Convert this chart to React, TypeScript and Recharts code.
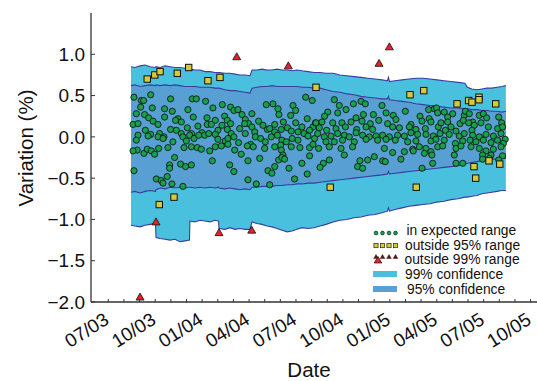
import React from 'react';
import { ComposedChart, Area, Scatter, XAxis, YAxis } from 'recharts';

const FONT = '"Liberation Sans", Arial, Helvetica, sans-serif';

// x values: months since July 2003 (0 = 07/03)
const bandMonths = [1.45,1.71,2.03,2.35,2.67,3.02,3.05,3.31,3.63,3.94,4.26,4.58,4.90,5.19,5.22,5.54,5.86,6.18,6.50,6.82,7.05,7.08,7.46,7.78,8.10,8.42,8.74,9.06,9.19,9.51,9.83,10.15,10.47,10.79,11.11,11.43,11.75,12.07,12.39,12.77,13.15,13.54,13.92,14.37,14.81,15.26,15.71,16.16,16.60,17.05,17.50,17.85,17.91,17.98,18.33,18.78,19.23,19.67,20.12,20.57,21.02,21.46,21.91,22.36,22.80,22.96,23.25,23.57,23.89,24.21,24.53,24.85,25.17,25.42];
const upper99 = [0.85,0.84,0.86,0.87,0.85,0.84,0.85,0.84,0.86,0.85,0.84,0.84,0.83,0.83,0.82,0.81,0.81,0.79,0.79,0.78,0.78,0.78,0.77,0.77,0.76,0.75,0.75,0.74,0.81,0.81,0.82,0.81,0.81,0.82,0.81,0.81,0.80,0.81,0.80,0.79,0.78,0.78,0.77,0.77,0.75,0.74,0.73,0.72,0.71,0.70,0.69,0.68,0.72,0.67,0.68,0.69,0.70,0.71,0.71,0.70,0.69,0.68,0.67,0.66,0.65,0.60,0.58,0.57,0.58,0.59,0.59,0.60,0.61,0.62];
const upper95 = [0.62,0.63,0.61,0.62,0.63,0.62,0.63,0.62,0.63,0.62,0.63,0.62,0.61,0.61,0.61,0.61,0.60,0.60,0.60,0.59,0.59,0.59,0.57,0.56,0.56,0.55,0.54,0.53,0.59,0.60,0.61,0.61,0.62,0.61,0.61,0.61,0.61,0.61,0.60,0.60,0.59,0.59,0.57,0.55,0.54,0.52,0.51,0.49,0.48,0.47,0.46,0.46,0.49,0.45,0.44,0.43,0.42,0.40,0.39,0.38,0.37,0.36,0.35,0.35,0.34,0.34,0.33,0.33,0.32,0.32,0.31,0.31,0.30,0.31];
const lower95 = [-0.67,-0.66,-0.68,-0.66,-0.65,-0.66,-0.64,-0.62,-0.63,-0.61,-0.62,-0.61,-0.62,-0.61,-0.61,-0.62,-0.61,-0.62,-0.61,-0.62,-0.61,-0.62,-0.63,-0.62,-0.63,-0.64,-0.63,-0.64,-0.61,-0.61,-0.60,-0.60,-0.60,-0.59,-0.59,-0.58,-0.58,-0.57,-0.57,-0.56,-0.56,-0.55,-0.54,-0.53,-0.52,-0.51,-0.50,-0.49,-0.48,-0.47,-0.46,-0.45,-0.42,-0.45,-0.44,-0.43,-0.42,-0.41,-0.40,-0.39,-0.38,-0.37,-0.36,-0.35,-0.33,-0.32,-0.31,-0.30,-0.29,-0.28,-0.27,-0.27,-0.26,-0.26];
const lower99 = [-1.07,-1.08,-1.09,-1.07,-1.06,-1.05,-1.22,-1.23,-1.24,-1.25,-1.24,-1.27,-1.26,-1.25,-1.02,-1.03,-1.01,-1.02,-1.03,-1.01,-1.02,-1.11,-1.12,-1.10,-1.12,-1.11,-1.12,-1.12,-1.03,-1.05,-1.06,-1.08,-1.09,-1.11,-1.13,-1.15,-1.14,-1.12,-1.10,-1.11,-1.10,-1.08,-1.06,-1.03,-1.01,-1.00,-0.98,-0.97,-0.95,-0.94,-0.92,-0.90,-0.86,-0.90,-0.88,-0.86,-0.84,-0.83,-0.82,-0.81,-0.79,-0.78,-0.76,-0.75,-0.73,-0.73,-0.72,-0.71,-0.69,-0.68,-0.67,-0.66,-0.65,-0.65];

// [month, variation %]
const expectedPoints: [number, number][] = [
  [2.71,0.51],[1.64,0.48],[2.11,0.44],[2.26,0.44],[3.98,0.46],[5.37,0.46],[5.63,0.46],[6.22,0.43],[10.10,0.39],[10.53,0.40],[12.62,0.48],[13.04,0.44],[2.07,0.36],[2.81,0.35],[3.60,0.34],[4.09,0.31],[5.09,0.33],[6.69,0.35],[7.29,0.39],[7.82,0.36],[8.03,0.32],[8.29,0.33],[9.18,0.28],[10.85,0.34],[10.91,0.27],[11.81,0.38],[11.98,0.32],[11.66,0.26],
  [1.79,0.28],[2.32,0.27],[2.58,0.23],[2.86,0.19],[3.18,0.15],[3.60,0.24],[4.45,0.22],[4.67,0.18],[4.30,0.20],[5.43,0.24],[6.31,0.23],[6.84,0.20],[7.44,0.25],[7.61,0.20],[7.82,0.16],[8.55,0.27],[8.76,0.21],[8.97,0.16],[9.61,0.19],[10.17,0.09],[10.64,0.15],[11.19,0.18],[11.98,0.17],[12.72,0.22],[13.09,0.12],[13.24,0.17],
  [1.58,0.15],[1.90,0.16],[2.37,0.08],[2.71,0.03],[3.28,0.04],[3.56,0.00],[3.98,0.09],[4.35,0.08],[4.67,0.04],[5.05,0.11],[5.31,0.04],[5.73,0.13],[5.99,0.05],[6.33,0.15],[6.59,0.15],[7.01,0.08],[7.27,0.14],[7.61,0.09],[7.86,0.04],[8.40,0.10],[8.72,0.16],[9.18,0.12],[9.36,0.06],[9.89,0.14],[10.32,0.10],[10.64,0.06],[11.06,0.09],[11.45,0.11],[11.70,0.07],[12.13,0.06],[12.38,0.12],[12.87,0.08],
  [1.90,0.02],[2.54,0.01],[3.18,0.00],[3.50,-0.02],[4.13,-0.06],[4.77,0.00],[4.99,-0.05],[5.20,0.02],[5.48,-0.02],[5.78,0.02],[6.16,0.02],[6.42,0.04],[6.84,0.03],[7.01,-0.03],[7.48,-0.05],[7.65,-0.02],[8.03,0.00],[8.33,-0.07],[8.76,0.04],[9.10,-0.09],[9.40,0.00],[9.74,-0.02],[10.04,-0.06],[10.42,0.00],[10.81,0.02],[11.10,-0.04],[11.38,-0.06],[11.76,-0.02],[12.13,-0.04],[12.51,0.04],[12.77,0.01],[13.19,-0.02],
  [1.79,-0.04],[1.85,-0.16],[1.58,-0.17],[2.28,-0.20],[2.49,-0.15],[2.75,-0.17],[2.96,-0.21],[3.22,-0.14],[3.81,-0.13],[4.84,-0.13],[5.31,-0.12],[5.69,-0.13],[5.95,-0.15],[6.48,-0.17],[6.84,-0.12],[7.23,-0.11],[7.65,-0.09],[8.08,-0.16],[8.50,-0.21],[8.89,-0.11],[9.27,-0.12],[9.68,-0.26],[10.00,-0.14],[10.64,-0.12],[11.02,-0.10],[11.06,-0.16],[11.17,-0.22],[11.70,-0.12],[12.25,-0.13],[12.87,-0.13],[13.09,-0.09],
  [4.24,-0.25],[6.65,-0.29],[8.93,-0.29],[10.89,-0.28],[11.10,-0.25],[11.27,-0.27],[12.38,-0.32],[12.87,-0.23],
  [1.64,-0.41],[3.92,-0.34],[3.92,-0.38],[4.62,-0.33],[4.94,-0.36],[5.31,-0.34],[7.76,-0.34],[8.03,-0.42],[10.21,-0.41],[10.46,-0.44],[10.64,-0.36],[11.55,-0.38],[12.72,-0.45],
  [3.07,-0.51],[3.39,-0.53],[3.50,-0.56],[3.77,-0.48],[4.07,-0.57],[4.77,-0.60],[8.93,-0.52],[9.46,-0.57],[10.32,-0.58],[11.91,-0.51],
  [14.45,0.45],[14.77,0.38],[15.67,0.40],[16.16,0.43],[16.43,0.40],[17.50,0.38],[18.99,0.31],[15.20,0.33],[14.03,0.30],[13.83,0.25],[14.67,0.29],[15.84,0.23],[16.31,0.27],[16.95,0.27],[17.76,0.29],[18.22,0.26],[18.39,0.21],[19.93,0.25],[20.48,0.33],[20.85,0.34],[20.99,0.35],[21.06,0.29],[20.52,0.22],[21.48,0.30],[21.70,0.24],[22.02,0.28],[22.76,0.26],[22.83,0.31],[23.08,0.28],[23.30,0.18],[23.72,0.26],[23.98,0.28],[24.19,0.23],[24.96,0.24],[25.15,0.17],
  [13.28,0.17],[13.66,0.18],[14.35,0.17],[14.94,0.17],[15.52,0.18],[16.22,0.19],[16.75,0.16],[17.29,0.20],[17.86,0.16],[19.35,0.15],[20.06,0.19],[20.27,0.10],[20.63,0.18],[21.10,0.12],[21.27,0.17],[21.70,0.18],[21.91,0.12],[22.49,0.16],[22.70,0.20],[23.04,0.17],[23.40,0.14],[23.83,0.17],[24.30,0.12],[24.89,0.10],[25.21,0.12],
  [13.49,0.11],[13.96,0.08],[14.56,0.10],[15.16,0.12],[15.88,0.09],[16.48,0.12],[16.90,0.09],[18.18,0.12],[18.61,0.11],[19.25,0.12],[19.67,0.09],[21.55,0.08],[22.23,0.07],[23.25,0.08],
  [13.39,0.04],[13.81,0.00],[14.24,0.01],[14.67,0.04],[15.09,0.02],[15.41,0.00],[15.84,0.05],[16.26,0.02],[16.69,0.00],[17.12,0.01],[17.54,0.02],[17.97,0.00],[18.50,0.02],[18.93,0.01],[19.35,0.05],[19.78,0.03],[20.31,0.03],[20.78,0.01],[21.21,0.04],[21.80,0.03],[22.44,0.01],[22.76,0.04],[23.30,0.02],[23.72,0.00],[24.15,0.03],[24.62,0.01],[25.11,0.04],[25.38,-0.03],
  [13.92,-0.06],[14.45,-0.06],[14.98,-0.04],[15.73,-0.06],[16.48,-0.03],[17.22,-0.04],[17.76,-0.03],[18.35,-0.04],[19.14,-0.06],[19.67,-0.05],[20.63,-0.05],[20.95,-0.03],[21.48,-0.04],[22.19,-0.08],[22.66,-0.05],[23.13,-0.04],[23.51,-0.06],[23.98,-0.04],[24.47,-0.07],[24.89,-0.04],[25.26,-0.08],
  [13.45,-0.14],[14.13,-0.12],[14.88,-0.14],[15.62,-0.12],[17.65,-0.14],[18.18,-0.19],[18.93,-0.18],[19.46,-0.15],[19.89,-0.12],[20.31,-0.14],[20.63,-0.18],[21.06,-0.12],[21.38,-0.11],[22.23,-0.14],[22.55,-0.11],[23.19,-0.12],[23.72,-0.14],[24.15,-0.17],[24.62,-0.15],[25.11,-0.12],
  [15.09,-0.22],[19.50,-0.17],[20.21,-0.20],[20.69,-0.22],[22.12,-0.22],[23.93,-0.22],[24.47,-0.22],[25.21,-0.23],
  [14.13,-0.28],[13.75,-0.32],[13.54,-0.37],[16.09,-0.29],[16.58,-0.28],[17.01,-0.24],[17.54,-0.29],[17.71,-0.30],[18.71,-0.27],[20.74,-0.32],[22.23,-0.32],[22.66,-0.32],[23.93,-0.27],[24.36,-0.26],[24.96,-0.28],
  [15.94,-0.36],[16.26,-0.38],[20.06,-0.38],
];

const outside95Points: [number, number][] = [
  [2.49,0.70],[2.97,0.75],[3.31,0.79],[4.41,0.77],[5.14,0.84],[6.37,0.68],[7.14,0.72],[13.28,0.60],
  [4.20,-0.73],[3.26,-0.82],[19.29,0.51],[20.17,0.56],[22.30,0.40],[23.04,0.44],[23.25,0.42],[23.70,0.48],[23.70,0.45],[24.77,0.40],
  [14.19,-0.61],[19.69,-0.61],[23.38,-0.36],[23.49,-0.50],[24.34,-0.29],[25.03,-0.33],
];

const outside99Points: [number, number][] = [
  [2.03,-1.94],[8.21,0.97],[11.51,0.86],[3.05,-1.03],[7.08,-1.16],[9.17,-1.13],[17.97,1.09],[17.31,0.89],
];

const monthTicks = [0,1,2,3,4,5,6,7,8,9,10,11,12,13,14,15,16,17,18,19,20,21,22,23,24,25,26,27];
const yTicks = [-2, -1.5, -1, -0.5, 0, 0.5, 1];

const legendItems = ['in expected range', 'outside 95% range', 'outside 99% range', '99% confidence', '95% confidence'];

const C99 = '#49c1de';
const C95 = '#589fd3';
const EDGE = '#3a3aa0';
const GREEN = '#16a04f';
const YELLOW = '#d8c93c';
const RED = '#e3212b';
const AXIS = '#333';

const bandRows = bandMonths.map((m, i) => ({
  m,
  r99: [lower99[i], upper99[i]],
  r95: [lower95[i], upper95[i]],
}));
const toRows = (pts: [number, number][]) => pts.map(([m, v]) => ({ m, v }));

const monthLabel = (m: number) => {
  const idx = 6 + m;
  const mm = (idx % 12) + 1;
  const yy = 3 + Math.floor(idx / 12);
  return `${String(mm).padStart(2, '0')}/${String(yy).padStart(2, '0')}`;
};
const yLabel = (v: number) => (v < 0 ? '\u2212' + Math.abs(v).toFixed(1) : v.toFixed(1));

const BottomTick = (p: any) => {
  const { x, y, payload } = p;
  const m = payload.value;
  const major = m % 3 === 0;
  const ax = x + 2;
  const ay = y + 21;
  return (
    <g>
      <line x1={x} x2={x} y1={y} y2={y - 3} stroke={AXIS} strokeWidth={1} />
      {major && (
        <text x={ax} y={ay} textAnchor="end" transform={`rotate(-32 ${ax} ${ay})`} fontSize={19} fontFamily={FONT} fill="#111">
          {monthLabel(m)}
        </text>
      )}
    </g>
  );
};

const TopTick = (p: any) => {
  const { x, y, payload } = p;
  const major = payload.value % 3 === 0;
  return <line x1={x} x2={x} y1={y} y2={y + (major ? 4 : 2.5)} stroke={AXIS} strokeWidth={1} />;
};

const LeftTick = (p: any) => {
  const { x, y, payload } = p;
  return (
    <g>
      <line x1={x} x2={x + 4} y1={y} y2={y} stroke={AXIS} strokeWidth={1} />
      <text x={85} y={y} dy="0.35em" textAnchor="end" fontSize={19} fontFamily={FONT} fill="#111">
        {yLabel(payload.value)}
      </text>
    </g>
  );
};

const DotShape = (p: any) => <circle cx={p.cx} cy={p.cy} r={3.1} fill={GREEN} stroke="#0a0a0a" strokeWidth={0.8} />;
const SquareShape = (p: any) => (
  <rect x={p.cx - 3.2} y={p.cy - 3.2} width={6.4} height={6.4} fill={YELLOW} stroke="#111" strokeWidth={1} />
);
const TriShape = (p: any) => (
  <polygon points={`${p.cx},${p.cy - 4} ${p.cx + 4},${p.cy + 3} ${p.cx - 4},${p.cy + 3}`} fill={RED} stroke="#111" strokeWidth={0.8} />
);

const Legend = () => {
  const xs = [376, 382.5, 389, 395.5];
  return (
    <g fontFamily={FONT} fontSize={13.8} fill="#111">
      {xs.map((x) => (
        <circle key={'d' + x} cx={x} cy={233} r={1.9} fill={GREEN} stroke="#111" strokeWidth={0.6} />
      ))}
      <text x={406.5} y={234.5}>{legendItems[0]}</text>
      {xs.map((x) => (
        <rect key={'s' + x} x={x - 2.1} y={243.5} width={4.2} height={4.2} fill={YELLOW} stroke="#222" strokeWidth={0.7} />
      ))}
      <text x={405} y={249.5}>{legendItems[1]}</text>
      {xs.map((x) => (
        <polygon key={'t' + x} points={`${x},${254.5} ${x + 2.3},${258.5} ${x - 2.3},${258.5}`} fill="#6a1010" stroke="#222" strokeWidth={0.5} />
      ))}
      <polygon points="378,256.5 381.8,263 374.2,263" fill={RED} stroke="#111" strokeWidth={0.7} />
      <text x={404.5} y={264}>{legendItems[2]}</text>
      <rect x={373} y={271} width={24} height={6} fill={C99} />
      <text x={405} y={279.3}>{legendItems[3]}</text>
      <rect x={373} y={286} width={24} height={6} fill={C95} />
      <text x={407} y={294}>{legendItems[4]}</text>
    </g>
  );
};

export default function App() {
  return (
    <div style={{ position: 'absolute', left: 0, top: 0, width: 537, height: 381, background: '#fff' }}>
      <ComposedChart width={537} height={381} data={bandRows} margin={{ top: 13, right: 0, bottom: 0, left: 0 }}>
        <XAxis
          xAxisId="b"
          dataKey="m"
          type="number"
          domain={[-1.106, 27.41]}
          allowDataOverflow
          ticks={monthTicks}
          interval={0}
          tick={BottomTick}
          tickLine={false}
          tickSize={0}
          tickMargin={0}
          height={79}
          axisLine={{ stroke: AXIS, strokeWidth: 1.3 }}
        />
        <XAxis
          xAxisId="t"
          orientation="top"
          dataKey="m"
          type="number"
          domain={[-1.106, 27.41]}
          allowDataOverflow
          ticks={monthTicks}
          interval={0}
          tick={TopTick}
          tickLine={false}
          tickSize={0}
          tickMargin={0}
          height={0}
          axisLine={{ stroke: AXIS, strokeWidth: 1.3 }}
        />
        <YAxis
          yAxisId="l"
          type="number"
          domain={[-2, 1.5]}
          allowDataOverflow
          ticks={yTicks}
          interval={0}
          width={91}
          tick={LeftTick}
          tickLine={false}
          tickSize={0}
          tickMargin={0}
          axisLine={{ stroke: AXIS, strokeWidth: 1.3 }}
        />
        <Area xAxisId="b" yAxisId="l" dataKey="r99" type="linear" fill={C99} fillOpacity={1} stroke={EDGE} strokeWidth={1.1} dot={false} activeDot={false} isAnimationActive={false} />
        <Area xAxisId="b" yAxisId="l" dataKey="r95" type="linear" fill={C95} fillOpacity={1} stroke={EDGE} strokeWidth={1.1} dot={false} activeDot={false} isAnimationActive={false} />
        <Scatter xAxisId="b" yAxisId="l" data={toRows(expectedPoints)} dataKey="v" shape={DotShape} isAnimationActive={false} />
        <Scatter xAxisId="b" yAxisId="l" data={toRows(outside95Points)} dataKey="v" shape={SquareShape} isAnimationActive={false} />
        <Scatter xAxisId="b" yAxisId="l" data={toRows(outside99Points)} dataKey="v" shape={TriShape} isAnimationActive={false} />
      </ComposedChart>
      <svg width={537} height={381} style={{ position: 'absolute', left: 0, top: 0, pointerEvents: 'none' }}>
        <Legend />
        <text x={309} y={377} textAnchor="middle" fontSize={20.5} fontFamily={FONT} fill="#111">Date</text>
        <text transform="translate(33 148) rotate(-90)" x={0} y={0} textAnchor="middle" fontSize={20.5} fontFamily={FONT} fill="#111">Variation (%)</text>
      </svg>
    </div>
  );
}
